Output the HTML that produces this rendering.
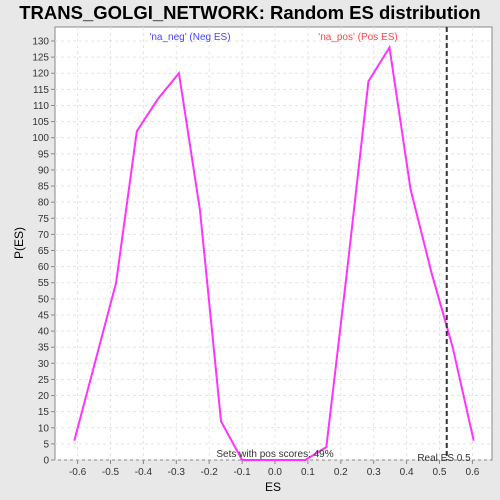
<!DOCTYPE html>
<html><head><meta charset="utf-8"><style>
body{margin:0;background:#e8e8e8;font-family:"Liberation Sans",sans-serif}
svg{display:block}
</style></head><body>
<svg width="500" height="500" xmlns="http://www.w3.org/2000/svg">
<rect x="0" y="0" width="500" height="500" fill="#e8e8e8"/>
<text x="250" y="19" text-anchor="middle" font-size="18.5" font-weight="bold" fill="#000">TRANS_GOLGI_NETWORK: Random ES distribution</text>
<rect x="55" y="27" width="437" height="433" fill="#fff" stroke="#888"/>
<g id="grid"></g>
<g id="axes"></g>
<polyline id="line" fill="none" stroke="#ff33ff" stroke-width="2"/>
<line id="real" stroke="#333" stroke-width="2" stroke-dasharray="5,3"/>
<text x="190" y="40" text-anchor="middle" font-size="10" fill="#4444ff">'na_neg' (Neg ES)</text>
<text x="358" y="40" text-anchor="middle" font-size="10" fill="#ff4444">'na_pos' (Pos ES)</text>
<text x="275" y="457" text-anchor="middle" font-size="10" fill="#333">Sets with pos scores: 49%</text>
<text x="444" y="461" text-anchor="middle" font-size="10" fill="#333">Real ES 0.5</text>
<text x="273" y="491" text-anchor="middle" font-size="12" fill="#000">ES</text>
<text x="23" y="243" text-anchor="middle" font-size="12" fill="#000" transform="rotate(-90 23 243)">P(ES)</text>
</svg>
<script>
const xs=[-0.61,-0.483,-0.42,-0.356,-0.292,-0.228,-0.164,-0.1,0.092,0.156,0.22,0.284,0.348,0.412,0.476,0.54,0.604];
const ys=[6,55,102,112,120,77.5,12,0,0,4,59.5,117.5,128,84,58,35,6];
const xTicks=[-0.6,-0.5,-0.4,-0.3,-0.2,-0.1,0,0.1,0.2,0.3,0.4,0.5,0.6];
const yTicks=[0,5,10,15,20,25,30,35,40,45,50,55,60,65,70,75,80,85,90,95,100,105,110,115,120,125,130];
const realES=[0.522];
const X=v=>275+v*329, Y=v=>460-v*3.223;
const ns="http://www.w3.org/2000/svg";
const g=document.getElementById('grid'),a=document.getElementById('axes');
function mk(t,at,p){const e=document.createElementNS(ns,t);for(const k in at)e.setAttribute(k,at[k]);p.appendChild(e);return e;}
xTicks.forEach(v=>{
 const l=mk('line',{x1:X(v),x2:X(v),y1:27,y2:460,stroke:'#e4e4e4','stroke-dasharray':'3,3'},g);
 
 
 const tk=mk('line',{x1:X(v),x2:X(v),y1:460,y2:464,stroke:'#888'},a);
 
 
 const t=mk('text',{x:X(v),y:475,'text-anchor':'middle','font-size':'10',fill:'#333'},a);
 t.textContent=v.toFixed(1);
 
 
});
yTicks.forEach(v=>{
 const l=mk('line',{x1:55,x2:492,y1:Y(v),y2:Y(v),stroke:'#e4e4e4','stroke-dasharray':'3,3'},g);
 
 
 const tk=mk('line',{x1:51,x2:55,y1:Y(v),y2:Y(v),stroke:'#888'},a);
 
 
 const t=mk('text',{x:49,y:Y(v)+3.5,'text-anchor':'end','font-size':'10',fill:'#333'},a);
 t.textContent=v;
 
 
});
document.getElementById('line').setAttribute('points',xs.map((x,i)=>X(x)+','+Y(ys[i])).join(' '));
const r=document.getElementById('real');
r.setAttribute('x1',X(realES[0]));r.setAttribute('x2',X(realES[0]));r.setAttribute('y1',27);r.setAttribute('y2',460);
</script>
</body></html>
